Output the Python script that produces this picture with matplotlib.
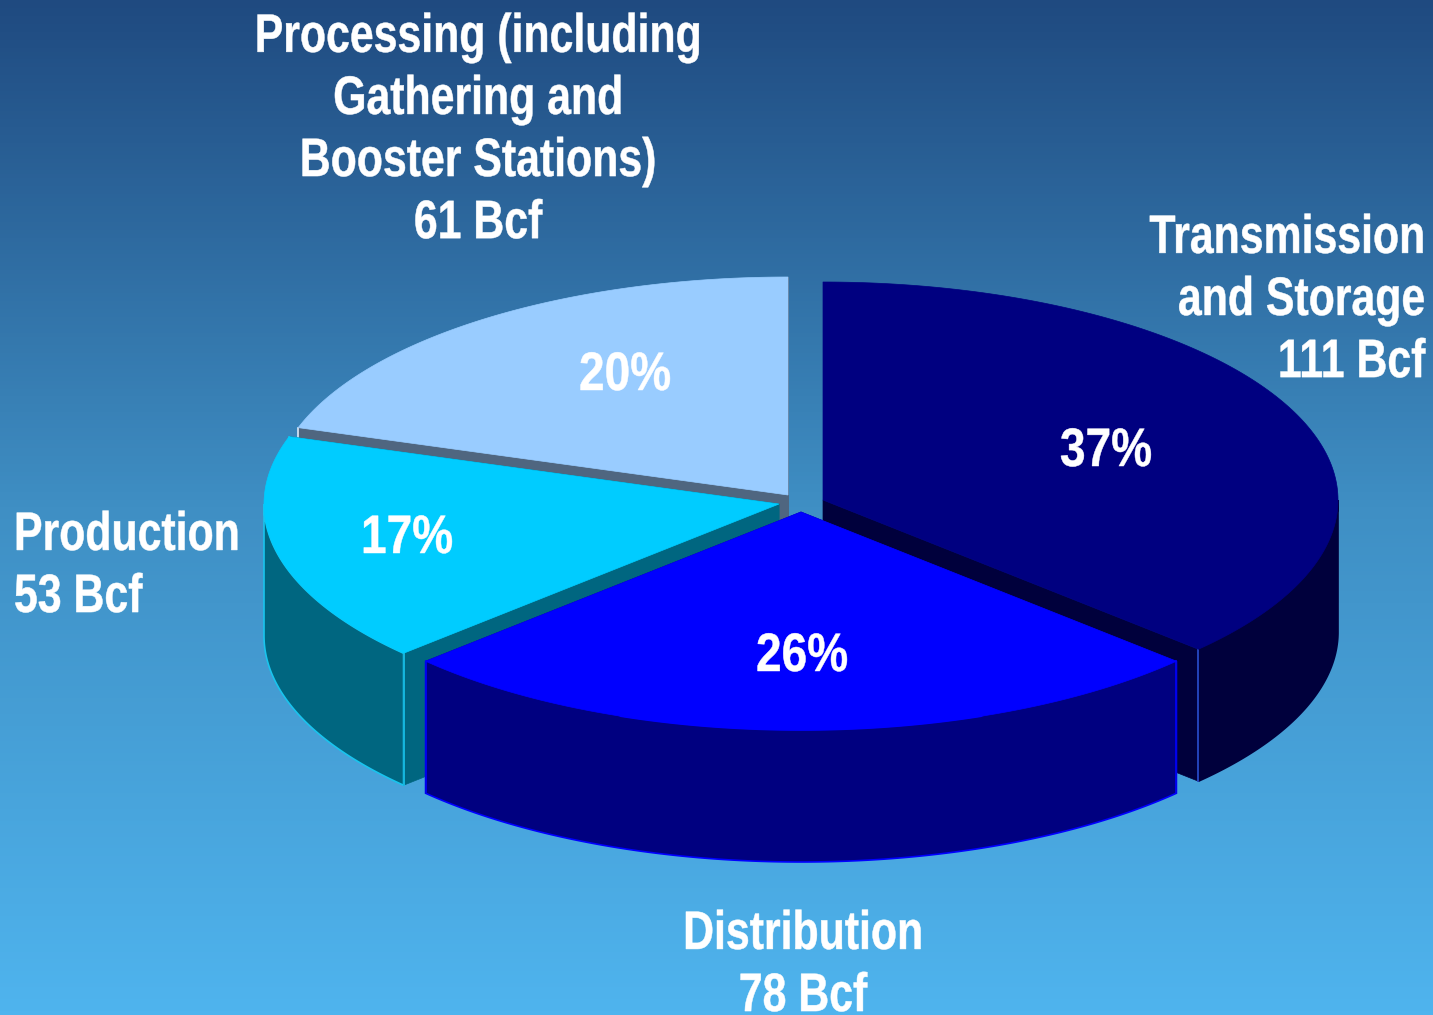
import numpy as np
import matplotlib
matplotlib.use('Agg')
import matplotlib.pyplot as plt
from matplotlib.colors import LinearSegmentedColormap
from matplotlib.patheffects import AbstractPathEffect
from matplotlib.transforms import Affine2D

# Data
labels = ['Transmission\nand Storage\n111 Bcf', 'Distribution\n78 Bcf', 'Production\n53 Bcf',
          'Processing (including\nGathering and\nBooster Stations)\n61 Bcf']
percents = [37, 26, 17, 20]

# Look of each slice
top_colors = ['#000080', '#0000ff', '#00ccff', '#99ccff']
side_colors = ['#00003c', '#000080', '#006680', '#4f6680']
edge_colors = ['#00003c', '#0000ff', '#19c4ee', '#dce9f8']
line_colors = ['#2a4fd0', '#0000ff', '#19c4ee', '#dce9f8']
centers = [(823, 500), (801, 512), (779, 504), (788, 495)]
pct_pos = [(1106, 452), (802, 657), (407, 539), (625, 376)]
label_pos = [(1425, 301, 'right'), (803, 966, 'center'), (14, 567, 'left'), (478, 131, 'center')]
rx, ry, depth = 515, 218, 132

plt.rcParams['font.family'] = ['Liberation Sans', 'DejaVu Sans']


# The reference font is narrow, so squeeze the glyphs sideways around the text anchor
class Squeeze(AbstractPathEffect):
    def __init__(self, x0, sx):
        super().__init__()
        self.x0 = x0
        self.sx = sx

    def draw_path(self, renderer, gc, tpath, affine, rgbFace=None):
        squeeze = Affine2D().translate(-self.x0, 0).scale(self.sx, 1).translate(self.x0, 0)
        gc.set_linewidth(0.35)  # a little heavier, like the original
        renderer.draw_path(gc, tpath, affine + squeeze, rgbFace)


fig = plt.figure(figsize=(14.33, 10.15), dpi=100)
ax = fig.add_axes([0, 0, 1, 1])
ax.set_xlim(0, 1433)
ax.set_ylim(1015, 0)
ax.axis('off')

# Background gradient
bg = LinearSegmentedColormap.from_list('bg', ['#1f4a80', '#3f8fc4', '#4fb4ee'])
ax.imshow(np.linspace(0, 1, 256).reshape(-1, 1), cmap=bg, extent=(0, 1433, 1015, 0), aspect='auto', zorder=0)

# Slice angles, clockwise from the top
ends = np.cumsum(percents) * 3.6
starts = ends - np.array(percents) * 3.6


def rim(center, a0, a1):
    t = np.radians(np.linspace(a0, a1, 200))
    return center[0] + rx * np.sin(t), center[1] - ry * np.cos(t)


def draw_slice(i, z):
    c = centers[i]
    x, y = rim(c, starts[i], ends[i])

    # outer wall, only the part facing the viewer (90 to 270 degrees)
    a0, a1 = max(starts[i], 90), min(ends[i], 270)
    if a1 > a0:
        wx, wy = rim(c, a0, a1)
        ax.fill(np.r_[wx, wx[::-1]], np.r_[wy, wy[::-1] + depth], fc=side_colors[i],
                ec=edge_colors[i], lw=1.2, zorder=z)

    # the two cut faces
    for px, py in [(x[0], y[0]), (x[-1], y[-1])]:
        ax.fill([c[0], px, px, c[0]], [c[1], py, py + depth, c[1] + depth], fc=side_colors[i],
                ec=side_colors[i], lw=0.5, zorder=z)
    # corner line on the outer edge of a cut
    for a in (starts[i], ends[i]):
        if 0 < a < 360:
            px, py = rim(c, a, a)
            ax.plot([px[0], px[0]], [py[0], py[0] + depth], color=line_colors[i], lw=1.2, zorder=z)

    ax.fill(np.r_[c[0], x], np.r_[c[1], y], fc=top_colors[i], ec=top_colors[i], lw=0.5, zorder=z + 0.5)


# back to front
for z, i in enumerate([3, 2, 0, 1], start=1):
    draw_slice(i, z)

# Text
for (x, y), p in zip(pct_pos, percents):
    ax.text(x, y, f'{p}%', color='white', fontsize=39, fontweight='bold', ha='center', va='center', zorder=10,
            path_effects=[Squeeze(x, 0.85)])
for (x, y, ha), lab in zip(label_pos, labels):
    ax.text(x, y, lab, color='white', fontsize=39, fontweight='bold', ha=ha, va='center',
            multialignment=ha, linespacing=1.31, zorder=10, clip_on=False,
            path_effects=[Squeeze(x, 0.79)])

fig.savefig('out.png', dpi=100)
